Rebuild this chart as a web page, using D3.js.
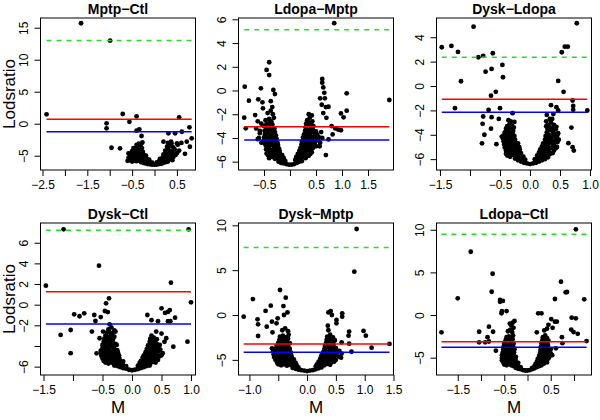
<!DOCTYPE html>
<html><head><meta charset="utf-8">
<script src="https://cdn.jsdelivr.net/npm/d3@7"></script>
<style>body{margin:0;background:#fff}svg{display:block}text{font-family:"Liberation Sans",Arial,Helvetica,sans-serif}</style>
</head><body><svg id="c" width="600" height="420"></svg>
<script>
const titles = ["Mptp\u2212Ctl","Ldopa\u2212Mptp","Dysk\u2212Ldopa","Dysk\u2212Ctl","Dysk\u2212Mptp","Ldopa\u2212Ctl"];

const mptpCtl = [
[-1.64,15.7],[-0.99,12.97],[-2.41,1.47],[-1.07,0.06],[-1.07,-0.72],[-0.71,1.52],[-0.56,0.3],[-0.40,1.15],[0.55,1.0],[0.78,-0.56],[-0.96,-3.75],[-0.77,-3.85],[-0.58,-4.63],[-0.55,-5.57],[-0.40,-1.09],[-0.34,-0.88],[-0.29,-1.92],[0.31,-1.5],[0.46,-1.5],[0.61,-1.25],[0.83,-2.28],[0.72,-2.8],[0.79,-3.6],[0.68,-4.7],[0.50,-3.06],[0.2,-2.8],[0.37,-2.8],
[-0.30,-6.0],[-0.25,-6.1],[-0.2,-6.2],[-0.15,-6.3],[-0.1,-6.35],[-0.05,-6.4],[0,-6.4],[0.05,-6.38],[0.1,-6.3],[0.15,-6.25],[0.2,-6.1],[0.25,-6.0],[0.3,-5.9],
[-0.6,-5.8],[-0.55,-5.7],[-0.5,-5.9],[-0.45,-5.8],[-0.4,-5.85],[-0.35,-5.75],[-0.3,-5.7],[-0.25,-5.8],[-0.2,-5.75],[-0.15,-5.9],[-0.1,-6.0],[-0.05,-6.1],[0.05,-6.05],[0.1,-5.9],[0.15,-5.8],[0.2,-5.7],[0.28,-5.6],[0.35,-5.5],[0.4,-5.7],
[-0.58,-5.3],[-0.52,-5.2],[-0.47,-5.4],[-0.42,-5.3],[-0.37,-5.2],[-0.32,-5.35],[-0.27,-5.3],[-0.22,-5.4],[-0.17,-5.5],[-0.12,-5.6],[0.12,-5.5],[0.18,-5.3],[0.23,-5.2],[0.3,-5.1],[0.37,-5.0],[0.42,-5.2],[0.47,-4.9],
[-0.55,-4.8],[-0.48,-4.7],[-0.43,-4.9],[-0.38,-4.8],[-0.33,-4.7],[-0.28,-4.85],[-0.23,-4.9],[-0.19,-5.0],[0.2,-4.8],[0.26,-4.7],[0.33,-4.6],[0.4,-4.5],[0.5,-4.6],
[-0.5,-4.3],[-0.44,-4.2],[-0.39,-4.4],[-0.34,-4.3],[-0.3,-4.2],[-0.26,-4.4],[0.24,-4.2],[0.3,-4.0],[0.36,-4.3],[0.45,-4.0],[0.55,-4.2],
[-0.47,-3.8],[-0.4,-3.7],[-0.36,-3.9],[-0.32,-3.6],[-0.28,-3.8],[0.28,-3.6],[0.35,-3.5],[0.42,-3.7],[0.52,-3.3],
[-0.4,-3.3],[-0.35,-3.1],[-0.3,-3.2],[-0.27,-2.9],[0.3,-3.0],[0.38,-3.1],[0.6,-3.0]
];

const ldopaMptp = [
[0.85,5.67],[-0.40,2.38],[-0.45,1.73],[-0.40,1.3],[-0.87,0.32],[-0.79,-0.86],[-0.88,-2.29],[-0.85,-3.19],[-0.67,-2.07],[-0.56,0.18],[-0.61,-0.74],[-0.53,-1.0],[-0.32,0.04],[-0.29,-0.3],[-0.37,-0.9],[-0.34,-1.4],
[0.62,0.97],[0.62,0.66],[0.64,0.26],[0.66,-0.2],[0.58,-0.66],[0.67,-0.66],[0.61,-1.2],[0.69,-1.4],[0.74,-1.37],[0.64,-1.9],[0.7,-2.3],[1.09,-0.24],[1.09,-1.7],[0.98,-1.93],[1.03,-2.26],[1.91,-0.8],[0.98,-3.35],[0.87,-3.2],[0.82,-3.7],[0.74,-4.12],[0.69,-5.44],[0.54,-4.2],[0.57,-4.7],[0.93,-3.3],[0.8,-3.0],
[-0.22,-6.0],[-0.17,-6.1],[-0.12,-6.15],[-0.07,-6.2],[-0.02,-6.25],[0.03,-6.25],[0.08,-6.2],[0.13,-6.1],[0.18,-6.0],[0.23,-5.95],
[-0.4,-5.7],[-0.34,-5.6],[-0.29,-5.75],[-0.24,-5.7],[-0.19,-5.8],[-0.14,-5.85],[-0.09,-5.95],[0.1,-5.85],[0.15,-5.75],[0.2,-5.7],[0.25,-5.6],[0.3,-5.7],[0.36,-5.5],
[-0.42,-5.45],[-0.36,-5.4],[-0.31,-5.5],[-0.26,-5.45],[-0.21,-5.55],[-0.17,-5.6],[-0.12,-5.7],[0.12,-5.6],[0.17,-5.5],[0.22,-5.45],[0.27,-5.4],[0.33,-5.5],[0.39,-5.35],
[-0.45,-5.3],[-0.39,-5.2],[-0.34,-5.1],[-0.29,-5.25],[-0.24,-5.2],[-0.19,-5.35],[-0.15,-5.45],[0.15,-5.35],[0.2,-5.2],[0.25,-5.1],[0.3,-5.25],[0.36,-5.05],[0.42,-5.2],
[-0.46,-4.95],[-0.4,-4.9],[-0.35,-5.0],[-0.3,-4.95],[-0.25,-5.05],[-0.2,-5.1],[0.18,-5.1],[0.23,-4.95],[0.28,-5.0],[0.33,-4.9],[0.38,-4.95],[0.44,-4.85],
[-0.47,-4.6],[-0.41,-4.7],[-0.36,-4.55],[-0.31,-4.75],[-0.26,-4.8],[-0.21,-4.9],[0.2,-4.85],[0.25,-4.65],[0.3,-4.7],[0.35,-4.55],[0.4,-4.7],[0.47,-4.5],
[-0.49,-4.45],[-0.43,-4.4],[-0.38,-4.5],[-0.33,-4.45],[-0.28,-4.55],[-0.23,-4.6],[0.22,-4.55],[0.27,-4.45],[0.32,-4.5],[0.37,-4.4],[0.42,-4.45],[0.49,-4.3],
[-0.5,-4.2],[-0.44,-4.1],[-0.38,-4.25],[-0.33,-4.1],[-0.28,-4.3],[-0.24,-4.4],[0.23,-4.3],[0.28,-4.1],[0.33,-4.2],[0.38,-4.05],[0.44,-4.2],[0.5,-4.0],
[-0.5,-3.95],[-0.45,-3.9],[-0.4,-4.0],[-0.35,-3.9],[-0.3,-4.0],[-0.26,-4.05],[0.25,-3.95],[0.3,-3.9],[0.35,-3.95],[0.4,-3.85],[0.46,-3.9],
[-0.48,-3.7],[-0.42,-3.6],[-0.37,-3.75],[-0.32,-3.6],[-0.27,-3.8],[0.27,-3.7],[0.32,-3.55],[0.37,-3.7],[0.42,-3.5],[0.48,-3.65],
[-0.49,-3.4],[-0.43,-3.45],[-0.38,-3.35],[-0.33,-3.4],[-0.29,-3.5],[0.29,-3.4],[0.34,-3.3],[0.39,-3.4],[0.44,-3.3],[0.5,-3.45],
[-0.5,-3.0],[-0.45,-3.2],[-0.4,-3.1],[-0.35,-2.95],[-0.3,-3.2],[0.3,-3.1],[0.35,-2.9],[0.4,-3.15],[0.45,-3.0],
[-0.45,-2.8],[-0.39,-2.75],[-0.34,-2.85],[0.31,-2.8],[0.37,-2.7],[0.41,-2.85],
[-0.47,-2.5],[-0.4,-2.4],[-0.36,-2.6],[-0.31,-2.3],[0.33,-2.5],[0.38,-2.3],[0.43,-2.6],
[-0.43,-1.9],[-0.37,-1.7],[-0.33,-2.0],[0.36,-2.0],[0.42,-2.1],
[-0.55,-2.8],[-0.58,-3.4],[-0.6,-4.0],[-0.52,-1.5],[-0.62,-2.6],[-0.58,-3.6],[-0.62,-4.1],[-0.55,-4.4],[-0.65,-3.2],
[0.52,-3.7],[0.55,-3.9],[0.58,-4.4],[0.6,-3.5],[0.62,-4.0],[0.5,-4.7]
];

const dyskLdopa = [
[-1.47,3.18],[-1.31,3.29],[-1.2,2.8],[-0.94,4.87],[-1.15,0.39],[-1.25,-1.82],[-0.86,2.36],[-0.78,2.47],[-0.62,2.69],[-0.74,1.18],[-0.64,1.4],[-0.46,1.73],[-0.45,0.72],[-0.65,-0.79],[-0.57,-0.48],[-0.69,-1.96],[-0.78,-2.5],[-0.64,-2.56],[-0.79,-3.1],[-0.65,-3.5],[-0.76,-4.0],[-0.8,-4.7],[-0.56,-4.77],[-0.5,-1.82],[-0.52,-2.7],[-0.29,-2.23],[-0.47,-4.15],
[0.47,0.42],[0.56,-0.48],[0.53,2.77],[0.58,3.23],[0.63,3.23],[0.78,5.15],[0.35,-1.57],[0.44,-1.74],[0.47,-2.0],[0.71,-1.19],[0.72,-1.63],[0.72,-1.95],[0.955,-2.01],[0.69,-3.41],[0.47,-3.87],[0.64,-4.69],[0.71,-5.02],[0.73,-5.3],[0.39,-2.3],[0.28,-2.37],[0.37,-2.7],
[-0.2,-6.1],[-0.15,-6.2],[-0.1,-6.3],[-0.05,-6.35],[0,-6.4],[0.05,-6.35],[0.1,-6.3],[0.15,-6.2],[0.2,-6.1],[0.25,-6.0],
[-0.25,-5.95],[-0.2,-6.0],[-0.15,-6.05],[-0.1,-6.15],[0.1,-6.15],[0.15,-6.05],[0.2,-6.0],[0.25,-5.9],[0.3,-5.85],
[-0.38,-5.7],[-0.33,-5.8],[-0.28,-5.65],[-0.23,-5.8],[-0.18,-5.85],[-0.13,-5.95],[-0.08,-6.05],[0.08,-6.0],[0.13,-5.9],[0.18,-5.8],[0.23,-5.7],[0.28,-5.8],[0.33,-5.6],
[-0.4,-5.55],[-0.35,-5.5],[-0.3,-5.6],[-0.25,-5.5],[-0.2,-5.6],[-0.15,-5.7],[-0.11,-5.8],[0.12,-5.7],[0.17,-5.6],[0.22,-5.5],[0.27,-5.55],[0.32,-5.45],[0.38,-5.5],
[-0.4,-5.3],[-0.35,-5.2],[-0.3,-5.35],[-0.25,-5.25],[-0.2,-5.4],[-0.15,-5.5],[0.15,-5.45],[0.2,-5.3],[0.25,-5.2],[0.3,-5.35],[0.35,-5.1],[0.4,-5.3],[0.45,-5.0],
[-0.42,-5.05],[-0.37,-5.0],[-0.32,-5.1],[-0.27,-5.0],[-0.22,-5.1],[-0.17,-5.2],[0.17,-5.2],[0.22,-5.05],[0.27,-5.0],[0.32,-5.05],[0.38,-4.95],[0.43,-5.1],
[-0.43,-4.8],[-0.37,-4.7],[-0.32,-4.85],[-0.27,-4.7],[-0.22,-4.9],[-0.18,-5.0],[0.2,-4.95],[0.25,-4.75],[0.3,-4.8],[0.35,-4.65],[0.4,-4.8],[0.46,-4.6],
[-0.44,-4.55],[-0.39,-4.5],[-0.34,-4.6],[-0.29,-4.5],[-0.24,-4.65],[-0.2,-4.7],[0.22,-4.7],[0.27,-4.55],[0.32,-4.5],[0.37,-4.55],[0.42,-4.45],[0.48,-4.4],
[-0.45,-4.3],[-0.4,-4.2],[-0.35,-4.35],[-0.3,-4.2],[-0.25,-4.4],[0.25,-4.4],[0.3,-4.2],[0.35,-4.3],[0.4,-4.1],[0.45,-4.25],
[-0.44,-4.05],[-0.39,-4.0],[-0.34,-4.1],[-0.29,-3.95],[-0.26,-4.1],[0.26,-4.1],[0.31,-4.0],[0.36,-4.05],[0.41,-3.95],[0.46,-4.0],
[-0.42,-3.8],[-0.37,-3.65],[-0.33,-3.85],[-0.28,-3.7],[0.28,-3.8],[0.33,-3.6],[0.38,-3.75],[0.43,-3.55],
[-0.4,-3.5],[-0.35,-3.45],[-0.3,-3.5],[-0.27,-3.4],[0.29,-3.5],[0.34,-3.4],[0.39,-3.45],[0.44,-3.35],
[-0.38,-3.3],[-0.34,-3.1],[-0.3,-3.25],[-0.26,-2.95],[0.3,-3.2],[0.35,-3.0],[0.4,-3.2],[0.27,-3.3],
[-0.36,-2.8],[-0.32,-2.9],[0.33,-2.7],[0.27,-2.9]
];

const dyskCtl = [
[-1.16,7.3],[0.96,7.3],[-1.46,1.84],[-0.56,3.78],[0.66,2.13],[1.0,0.23],[0.94,-3.58],[0.70,-4.07],[-1.21,-2.93],[-1.04,-2.45],[-1.04,-4.7],[-0.98,-0.93],[-0.89,-1.12],[-0.81,-0.84],[-0.39,0.62],[-0.44,0.13],[-0.46,-0.61],[-0.41,-0.72],[-0.64,-1.0],[-0.62,-1.58],[-0.53,-1.2],[-0.6,-4.71],[-0.68,-2.6],[-0.49,-2.6],[-0.55,-3.25],
[0.26,-1.0],[0.33,-1.5],[0.44,-1.6],[0.5,-0.35],[0.56,-0.8],[0.61,-0.7],[0.64,-0.52],[0.73,-1.26],[0.61,-1.6],[0.65,-1.6],[0.41,-2.6],[0.5,-2.8],[0.58,-3.25],[0.47,-3.9],[0.39,-4.5],
[-0.2,-6.05],[-0.15,-6.15],[-0.1,-6.2],[-0.05,-6.3],[0,-6.35],[0.05,-6.3],[0.1,-6.25],[0.15,-6.15],[0.2,-6.05],[0.25,-5.95],
[-0.3,-5.9],[-0.25,-5.95],[-0.2,-6.0],[-0.15,-6.05],[-0.1,-6.1],[0.1,-6.1],[0.15,-6.0],[0.2,-5.95],[0.25,-5.85],[0.3,-5.9],
[-0.45,-5.6],[-0.4,-5.7],[-0.35,-5.6],[-0.3,-5.75],[-0.25,-5.7],[-0.2,-5.8],[-0.15,-5.85],[-0.1,-5.95],[0.1,-5.9],[0.15,-5.8],[0.2,-5.7],[0.25,-5.65],[0.3,-5.75],[0.35,-5.55],[0.4,-5.6],
[-0.48,-5.45],[-0.43,-5.4],[-0.38,-5.5],[-0.33,-5.4],[-0.28,-5.5],[-0.23,-5.55],[-0.18,-5.65],[0.13,-5.65],[0.18,-5.55],[0.23,-5.45],[0.28,-5.5],[0.33,-5.4],[0.38,-5.45],[0.44,-5.35],
[-0.5,-5.2],[-0.45,-5.1],[-0.4,-5.25],[-0.35,-5.1],[-0.3,-5.3],[-0.25,-5.2],[-0.2,-5.4],[-0.15,-5.5],[0.15,-5.45],[0.2,-5.3],[0.25,-5.2],[0.3,-5.25],[0.35,-5.05],[0.4,-5.2],[0.47,-5.0],
[-0.52,-4.95],[-0.47,-4.9],[-0.42,-5.0],[-0.37,-4.9],[-0.32,-5.0],[-0.27,-4.95],[-0.22,-5.1],[0.18,-5.15],[0.23,-5.0],[0.28,-4.95],[0.33,-5.0],[0.38,-4.9],[0.43,-4.95],[0.5,-4.9],
[-0.52,-4.7],[-0.47,-4.6],[-0.42,-4.75],[-0.37,-4.6],[-0.32,-4.8],[-0.27,-4.65],[-0.22,-4.9],[0.2,-4.9],[0.25,-4.7],[0.3,-4.8],[0.35,-4.6],[0.4,-4.75],[0.45,-4.55],[0.52,-4.7],
[-0.53,-4.45],[-0.48,-4.4],[-0.43,-4.5],[-0.38,-4.4],[-0.33,-4.55],[-0.28,-4.5],[-0.24,-4.6],[0.23,-4.6],[0.28,-4.45],[0.33,-4.5],[0.38,-4.4],[0.43,-4.45],[0.48,-4.35],
[-0.5,-4.2],[-0.45,-4.1],[-0.4,-4.25],[-0.35,-4.05],[-0.3,-4.3],[-0.25,-4.4],[0.25,-4.3],[0.3,-4.1],[0.35,-4.2],[0.4,-4.05],[0.45,-4.2],
[-0.5,-3.9],[-0.45,-3.85],[-0.4,-3.95],[-0.35,-3.85],[-0.3,-4.0],[-0.26,-3.9],[0.27,-3.95],[0.32,-3.85],[0.37,-3.9],[0.42,-3.8],
[-0.48,-3.6],[-0.43,-3.5],[-0.38,-3.7],[-0.33,-3.5],[-0.28,-3.8],[0.3,-3.6],[0.35,-3.5],[0.4,-3.7],[0.55,-3.6],
[-0.47,-3.3],[-0.42,-3.25],[-0.37,-3.35],[-0.32,-3.3],[0.31,-3.3],[0.36,-3.25],[0.42,-3.35],
[-0.45,-3.0],[-0.4,-3.1],[-0.35,-2.9],[-0.3,-3.1],[0.33,-3.0],[0.37,-3.2],
[-0.43,-2.7],[-0.38,-2.65],[-0.33,-2.75],[-0.28,-2.6],
[-0.4,-2.4],[-0.35,-2.2],[-0.3,-2.5],[-0.38,-1.9]
];

const dyskMptp = [
[0.86,9.59],[0.82,4.83],[-1.10,-0.19],[-0.94,1.78],[-0.86,-0.48],[-0.85,-1.04],[-0.85,-2.34],[-0.72,0.45],[-0.63,1.04],[-0.70,-1.3],[-0.61,-0.74],[-0.60,-1.93],[-0.61,-3.71],[-0.59,-4.08],[-0.47,2.79],[-0.37,1.93],[-0.41,1.0],[-0.34,0.29],[-0.40,0.0],[-0.51,-0.37],[-0.53,-0.93],
[0.37,0.29],[0.41,0.44],[0.43,0.0],[0.61,0.19],[0.61,-0.19],[0.51,-0.55],[0.51,-0.93],[0.36,-1.19],[0.73,-1.85],[0.72,-2.3],[0.98,-1.78],[1.02,-2.3],[1.12,-3.64],[1.43,-3.23],[0.59,-4.76],[0.73,-3.2],[0.77,-4.1],[0.48,-2.85],[0.60,-3.05],
[-0.25,-5.9],[-0.2,-6.0],[-0.15,-6.1],[-0.1,-6.15],[-0.05,-6.2],[0,-6.25],[0.05,-6.2],[0.1,-6.15],[0.15,-6.05],[0.2,-5.95],[0.25,-5.85],
[-0.5,-5.5],[-0.45,-5.6],[-0.4,-5.5],[-0.35,-5.65],[-0.3,-5.55],[-0.25,-5.7],[-0.2,-5.75],[-0.15,-5.85],[0.15,-5.75],[0.2,-5.65],[0.25,-5.55],[0.3,-5.6],[0.35,-5.45],[0.4,-5.55],
[-0.52,-5.3],[-0.47,-5.25],[-0.42,-5.35],[-0.37,-5.3],[-0.32,-5.35],[-0.27,-5.45],[-0.22,-5.5],[-0.18,-5.6],[0.17,-5.5],[0.22,-5.4],[0.27,-5.3],[0.32,-5.35],[0.37,-5.25],[0.42,-5.3],[0.47,-5.2],
[-0.55,-5.0],[-0.5,-4.9],[-0.45,-5.05],[-0.4,-4.9],[-0.35,-5.1],[-0.3,-4.95],[-0.25,-5.15],[-0.2,-5.3],[0.2,-5.2],[0.25,-5.0],[0.3,-5.1],[0.35,-4.9],[0.4,-5.05],[0.45,-4.85],[0.5,-5.0],
[-0.57,-4.7],[-0.52,-4.65],[-0.47,-4.75],[-0.42,-4.65],[-0.37,-4.75],[-0.32,-4.7],[-0.27,-4.85],[-0.23,-4.95],[0.23,-4.85],[0.28,-4.7],[0.33,-4.75],[0.38,-4.65],[0.43,-4.7],[0.48,-4.6],[0.55,-4.65],
[-0.58,-4.4],[-0.52,-4.3],[-0.47,-4.45],[-0.42,-4.3],[-0.37,-4.5],[-0.32,-4.35],[-0.27,-4.6],[0.25,-4.5],[0.3,-4.3],[0.35,-4.45],[0.4,-4.25],[0.45,-4.4],[0.52,-4.2],[0.6,-4.3],
[-0.57,-4.1],[-0.51,-4.05],[-0.46,-4.15],[-0.41,-4.0],[-0.36,-4.15],[-0.31,-4.1],[-0.28,-4.2],[0.28,-4.15],[0.33,-4.05],[0.38,-4.1],[0.43,-4.0],[0.48,-4.1],[0.56,-4.0],
[-0.55,-3.8],[-0.5,-3.7],[-0.45,-3.85],[-0.4,-3.65],[-0.35,-3.9],[-0.3,-3.75],[0.3,-3.8],[0.35,-3.6],[0.4,-3.75],[0.45,-3.55],[0.5,-3.7],
[-0.53,-3.45],[-0.48,-3.4],[-0.43,-3.5],[-0.38,-3.4],[-0.33,-3.5],[0.31,-3.45],[0.36,-3.35],[0.41,-3.45],[0.46,-3.3],
[-0.5,-3.1],[-0.45,-3.0],[-0.4,-3.2],[-0.35,-2.95],[-0.3,-3.15],[0.33,-3.1],[0.38,-2.9],[0.43,-3.05],[0.48,-2.8],
[-0.48,-2.75],[-0.43,-2.7],[-0.38,-2.8],[-0.33,-2.65],[0.34,-2.75],[0.39,-2.6],[0.44,-2.7],
[-0.47,-2.4],[-0.42,-2.3],[-0.37,-2.5],[-0.32,-2.2],[0.35,-2.4],[0.4,-2.2],[0.45,-2.5],
[-0.43,-1.7],[-0.38,-1.5],[-0.33,-1.8],[0.37,-1.7]
];

const ldopaCtl = [
[1.04,10.05],[-1.22,7.42],[-1.50,1.96],[-1.85,-2.03],[-0.75,4.84],[-0.77,2.73],[0.72,3.9],[0.59,1.88],[0.82,2.66],[0.85,2.7],[1.22,1.84],[1.27,-3.05],[-1.04,-1.96],[-0.91,-3.2],[-0.86,-2.6],[-0.83,-3.1],[-0.83,-1.37],[-0.74,-1.96],[-0.68,-4.18],[-0.59,1.56],[-0.59,1.76],[-0.53,1.66],[-0.56,0.2],[-0.45,0.47],
[0.23,0.2],[0.30,0.2],[0.51,-0.47],[0.59,-0.78],[0.63,-0.78],[0.45,-1.15],[0.54,-1.5],[0.42,-1.6],[0.36,-1.8],[0.2,-2.03],[0.74,-2.6],[0.75,-3.3],[0.95,-0.31],[1.04,-0.39],[0.94,-1.7],[0.99,-2.0],[1.08,-2.2],[0.61,-3.9],[0.53,-4.7],[-0.55,0.45],[-1.04,-3.2],
[-0.25,-6.2],[-0.2,-6.3],[-0.15,-6.35],[-0.1,-6.45],[-0.05,-6.5],[0,-6.5],[0.05,-6.45],[0.1,-6.35],[0.15,-6.25],[0.2,-6.1],
[-0.3,-6.0],[-0.25,-6.1],[-0.2,-6.15],[-0.15,-6.2],[0.1,-6.2],[0.15,-6.15],[0.2,-6.05],[0.25,-6.0],
[-0.5,-5.8],[-0.45,-5.9],[-0.4,-5.75],[-0.35,-5.9],[-0.3,-5.85],[-0.25,-5.95],[-0.2,-6.0],[-0.15,-6.1],[0.15,-6.0],[0.2,-5.9],[0.25,-5.8],[0.3,-5.9],[0.35,-5.7],
[-0.52,-5.55],[-0.47,-5.6],[-0.42,-5.5],[-0.37,-5.6],[-0.32,-5.55],[-0.27,-5.7],[-0.22,-5.8],[0.17,-5.75],[0.22,-5.65],[0.27,-5.55],[0.32,-5.6],[0.37,-5.5],[0.42,-5.55],
[-0.55,-5.3],[-0.5,-5.2],[-0.45,-5.35],[-0.4,-5.2],[-0.35,-5.4],[-0.3,-5.25],[-0.25,-5.45],[-0.2,-5.6],[0.2,-5.5],[0.25,-5.3],[0.3,-5.4],[0.35,-5.2],[0.4,-5.35],[0.45,-5.1],
[-0.55,-5.0],[-0.5,-4.95],[-0.45,-5.05],[-0.4,-4.95],[-0.35,-5.1],[-0.3,-5.0],[-0.26,-5.15],[0.22,-5.15],[0.27,-5.0],[0.32,-5.05],[0.37,-4.95],[0.42,-5.0],[0.47,-4.9],
[-0.55,-4.7],[-0.5,-4.6],[-0.45,-4.75],[-0.4,-4.6],[-0.35,-4.8],[-0.3,-4.65],[-0.25,-4.9],[0.25,-4.8],[0.3,-4.6],[0.35,-4.75],[0.4,-4.55],[0.45,-4.7],[0.5,-4.5],
[-0.53,-4.35],[-0.48,-4.3],[-0.43,-4.4],[-0.38,-4.3],[-0.33,-4.45],[-0.29,-4.35],[0.27,-4.45],[0.32,-4.3],[0.37,-4.4],[0.42,-4.25],[0.47,-4.3],
[-0.52,-4.0],[-0.47,-3.9],[-0.42,-4.1],[-0.37,-3.9],[-0.32,-4.15],[-0.28,-4.0],[0.28,-4.1],[0.33,-3.9],[0.38,-4.05],[0.43,-3.85],[0.5,-4.0],
[-0.51,-3.65],[-0.46,-3.6],[-0.41,-3.7],[-0.36,-3.55],[-0.31,-3.7],[0.29,-3.7],[0.34,-3.55],[0.39,-3.65],[0.44,-3.5],
[-0.5,-3.3],[-0.45,-3.2],[-0.4,-3.4],[-0.35,-3.15],[-0.3,-3.35],[0.3,-3.3],[0.35,-3.1],[0.4,-3.3],[0.45,-3.0],
[-0.47,-2.95],[-0.42,-2.9],[-0.37,-3.0],[-0.32,-2.85],[0.32,-2.95],[0.37,-2.8],[0.42,-2.95],
[-0.45,-2.6],[-0.4,-2.5],[-0.35,-2.7],[-0.31,-2.4],[0.33,-2.6],[0.38,-2.4],[0.42,-2.7],
[-0.42,-1.9],[-0.37,-1.7],[-0.33,-2.0],[-0.3,-1.5],[-0.35,-1.2],[-0.32,-0.9],[-0.38,-1.0],[-0.28,-0.7]
];

const panelPoints = [mptpCtl, ldopaMptp, dyskLdopa, dyskCtl, dyskMptp, ldopaCtl];
const greenCut = [13.0, 5.12, 2.36, 7.2, 7.54, 9.46];
const redCut = [0.7, -3.05, -1.08, 1.26, -3.23, -3.13];
const blueCut = [-1.25, -4.17, -2.15, -1.87, -4.15, -3.79];

const xDomains = [[-2.545,0.915],[-0.99,1.99],[-1.558,1.025],[-1.551,1.076],[-1.19,1.5],[-1.957,1.376]];
const yDomains = [[-7.23,16.52],[-6.70,6.11],[-6.89,5.58],[-6.81,7.91],[-6.69,10.26],[-7.03,10.79]];
const xTicks = [[-2.5,-2,-1.5,-1,-0.5,0,0.5],[-0.5,0,0.5,1,1.5],[-1.5,-1,-0.5,0,0.5,1],[-1.5,-1,-0.5,0,0.5,1],[-1,-0.5,0,0.5,1,1.5],[-1.5,-1,-0.5,0,0.5,1]];
const xTickLabels = [[-2.5,-1.5,-0.5,0.5],[-0.5,0.5,1,1.5],[-1.5,-0.5,0,0.5,1],[-1.5,-0.5,0,0.5,1],[-1,0,0.5,1,1.5],[-1.5,-0.5,0.5]];
const yTicks = [[-5,0,5,10,15],[-6,-4,-2,0,2,4,6],[-6,-4,-2,0,2,4],[-6,-4,-2,0,2,4,6],[-5,0,5,10],[-5,0,5,10]];
const yTickLabels = [[-5,0,5,10,15],[-6,-4,-2,0,2,4,6],[-6,-4,-2,0,2,4],[-6,-2,0,2,4,6],[-5,0,5,10],[-5,0,5,10]];
const xTitle = "M";
const yTitle = "Lodsratio";

const svg = d3.select("#c");
const colLeft = [40.5, 238.5, 436.5], rowTop = [18, 223], W = 155, H = 152;
const minus = s => s.replace(/-/g, "\u2212");
const fx = d3.format(".1f"), fy = d3.format("d");

panelPoints.forEach((pts, i) => {
  const col = i % 3, row = Math.floor(i / 3);
  const L = colLeft[col], T = rowTop[row];
  const x = d3.scaleLinear().domain(xDomains[i]).range([L, L + W]);
  const y = d3.scaleLinear().domain(yDomains[i]).range([T + H, T]);
  const g = svg.append("g");

  g.append("g").selectAll("circle").data(pts).join("circle")
    .attr("cx", d => x(d[0])).attr("cy", d => y(d[1])).attr("r", 2.4).attr("fill", "#000");

  const [x0, x1] = d3.extent(pts, d => d[0]);
  const hl = (v, color, dash) => g.append("line")
    .attr("x1", x(x0)).attr("x2", x(x1)).attr("y1", y(v)).attr("y2", y(v))
    .attr("stroke", color).attr("stroke-width", 1.5).attr("stroke-dasharray", dash || null);
  hl(greenCut[i], "#22e022", "5,5");
  hl(redCut[i], "#ff0000");
  hl(blueCut[i], "#0000ff");

  g.append("rect").attr("x", L).attr("y", T).attr("width", W).attr("height", H)
    .attr("fill", "none").attr("stroke", "#000").attr("stroke-width", 1);

  const xa = g.append("g").attr("transform", `translate(0,${T + H})`)
    .call(d3.axisBottom(x).tickValues(xTicks[i]).tickSize(6).tickSizeOuter(0).tickPadding(4)
      .tickFormat(d => xTickLabels[i].includes(d) ? minus(fx(d)) : ""));
  xa.select(".domain").remove();
  xa.attr("font-family", null).attr("font-size", null);
  xa.selectAll("text").attr("font-size", 12).attr("fill", "#000");
  xa.selectAll("line").attr("stroke", "#000");

  const ya = g.append("g").attr("transform", `translate(${L},0)`)
    .call(d3.axisLeft(y).tickValues(yTicks[i]).tickSize(6).tickSizeOuter(0)
      .tickFormat(d => yTickLabels[i].includes(d) ? minus(fy(d)) : ""));
  ya.select(".domain").remove();
  ya.attr("font-family", null).attr("font-size", null);
  ya.selectAll("line").attr("stroke", "#000");
  ya.selectAll("text").attr("font-size", 12).attr("fill", "#000")
    .attr("transform", "rotate(-90)").attr("x", 0).attr("y", -13).attr("dy", null)
    .attr("text-anchor", "middle");

  g.append("text").attr("x", L + W / 2).attr("y", T - 4).attr("text-anchor", "middle")
    .attr("font-size", 14).attr("font-weight", "bold").text(titles[i]);

  if (col === 0) {
    g.append("text").attr("transform", `translate(15,${T + H / 2}) rotate(-90)`)
      .attr("text-anchor", "middle").attr("font-size", 17).text(yTitle);
  }
  if (row === 1) {
    g.append("text").attr("x", L + W / 2).attr("y", 413).attr("text-anchor", "middle")
      .attr("font-size", 17).text(xTitle);
  }
});
</script></body></html>
